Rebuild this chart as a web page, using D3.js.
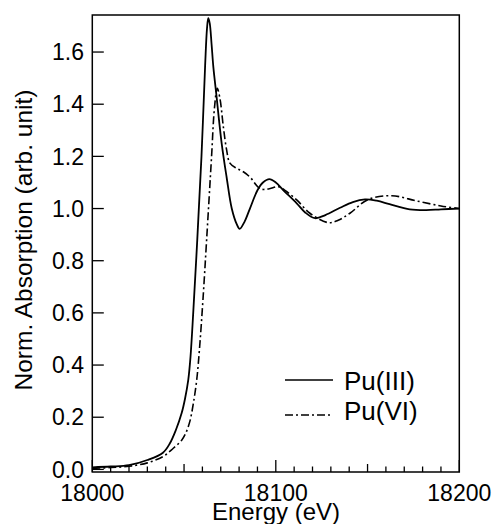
<!DOCTYPE html>
<html>
<head>
<meta charset="utf-8">
<script src="https://cdn.jsdelivr.net/npm/d3@7"></script>
<style>
  body { margin: 0; background: #fff; }
  svg { display: block; }
  text { font-family: "Liberation Sans", Arial, Helvetica, sans-serif; fill: #000; }
</style>
</head>
<body>
<svg id="chart" width="494" height="524"></svg>
<script>
// energy (eV) and normalized absorption
var pu3Energy = [18000, 18010, 18020, 18030, 18038.5, 18042.3, 18045.5, 18048.7, 18050.5, 18052.3, 18053.5,
  18055, 18057.2, 18059.5, 18061.5, 18062.5, 18063.2, 18064, 18065, 18066, 18067.4, 18070.5, 18073.2,
  18076, 18078.7, 18080.3, 18083, 18085.9, 18090, 18093, 18096.5, 18100, 18104, 18111.4, 18116, 18121.4,
  18127, 18135, 18142, 18148.6, 18155, 18162, 18173, 18182, 18190, 18200];
var pu3Value = [0.008, 0.011, 0.016, 0.036, 0.064, 0.10, 0.15, 0.216, 0.27, 0.343, 0.43,
  0.6, 0.88, 1.2, 1.55, 1.69, 1.73, 1.71, 1.63, 1.54, 1.45, 1.25, 1.12,
  1.0, 0.94, 0.922, 0.95, 1.0, 1.07, 1.10, 1.113, 1.10, 1.071, 1.02, 0.985, 0.963,
  0.975, 1.003, 1.025, 1.035, 1.03, 1.017, 0.997, 0.994, 0.997, 1.0];

var pu6Energy = [18000, 18010, 18020, 18030, 18038.7, 18044, 18048.7, 18051, 18053.2, 18055, 18056.9,
  18058.5, 18060.3, 18062.3, 18065, 18066.5, 18068.1, 18069.6, 18071.4, 18073.2, 18075, 18078.7,
  18082.3, 18086, 18091.5, 18096, 18101.4, 18105, 18111.4, 18118.6, 18128.6, 18134, 18140.4,
  18150.4, 18163.2, 18176.8, 18190, 18200];
var pu6Value = [0.004, 0.007, 0.012, 0.025, 0.05, 0.08, 0.112, 0.14, 0.185, 0.25, 0.343,
  0.47, 0.65, 0.88, 1.2, 1.38, 1.461, 1.42, 1.314, 1.225, 1.174, 1.154,
  1.141, 1.12, 1.076, 1.075, 1.084, 1.07, 1.033, 0.982, 0.946, 0.955, 0.982,
  1.035, 1.049, 1.029, 1.01, 1.0];

var seriesNames = ['Pu(III)', 'Pu(VI)'];
var yTickValues = [0, 0.2, 0.4, 0.6, 0.8, 1.0, 1.2, 1.4, 1.6];
var xTickValues = [18000, 18100, 18200];

var svg = d3.select('#chart');

var plotLeft = 92.3, plotRight = 459.3, plotTop = 15, plotBottom = 472;

var x = d3.scaleLinear().domain([18000, 18200]).range([plotLeft, plotRight]);
var y = d3.scaleLinear().domain([-0.01, 1.742]).range([plotBottom, plotTop]);

svg.append('clipPath').attr('id', 'clip')
  .append('rect')
  .attr('x', plotLeft).attr('y', plotTop)
  .attr('width', plotRight - plotLeft).attr('height', plotBottom - plotTop);

// curves
var line = d3.line()
  .x(function(d) { return x(d[0]); })
  .y(function(d) { return y(d[1]); })
  .curve(d3.curveCatmullRom.alpha(0.5));

var pu3 = d3.zip(pu3Energy, pu3Value);
var pu6 = d3.zip(pu6Energy, pu6Value);

var plot = svg.append('g').attr('clip-path', 'url(#clip)');

plot.append('path')
  .datum(pu6)
  .attr('d', line)
  .attr('fill', 'none')
  .attr('stroke', '#000')
  .attr('stroke-width', 1.6)
  .attr('stroke-dasharray', '8,3,2,3');

plot.append('path')
  .datum(pu3)
  .attr('d', line)
  .attr('fill', 'none')
  .attr('stroke', '#000')
  .attr('stroke-width', 1.8);

// x minor ticks every 10 eV, pointing inward
var xMinor = d3.range(18000, 18201, 10);
svg.append('g')
  .selectAll('line')
  .data(xMinor)
  .enter()
  .append('line')
  .attr('x1', function(d) { return x(d); })
  .attr('x2', function(d) { return x(d); })
  .attr('y1', plotBottom)
  .attr('y2', function(d) {
    if (d % 100 === 0) return plotBottom - 12;
    if (d % 50 === 0) return plotBottom - 8;
    return plotBottom - 5.5;
  })
  .attr('stroke', '#000')
  .attr('stroke-width', 1.3);

svg.append('g')
  .selectAll('text')
  .data(xTickValues)
  .enter()
  .append('text')
  .attr('x', function(d) { return x(d); })
  .attr('y', 501)
  .attr('text-anchor', 'middle')
  .style('font-size', '23px')
  .text(function(d) { return d; });

// y ticks
svg.append('g')
  .selectAll('line')
  .data(yTickValues)
  .enter()
  .append('line')
  .attr('x1', plotLeft)
  .attr('x2', plotLeft + 11.5)
  .attr('y1', function(d) { return y(d); })
  .attr('y2', function(d) { return y(d); })
  .attr('stroke', '#000')
  .attr('stroke-width', 1.3);

svg.append('g')
  .selectAll('text')
  .data(yTickValues)
  .enter()
  .append('text')
  .attr('x', 84)
  .attr('y', function(d) { return y(d) + 8.2; })
  .attr('text-anchor', 'end')
  .style('font-size', '23px')
  .text(function(d) { return d.toFixed(1); });

// frame
svg.append('rect')
  .attr('x', plotLeft).attr('y', plotTop)
  .attr('width', plotRight - plotLeft).attr('height', plotBottom - plotTop)
  .attr('fill', 'none')
  .attr('stroke', '#000')
  .attr('stroke-width', 1.5);

// axis titles
svg.append('text')
  .attr('x', 276)
  .attr('y', 520)
  .attr('text-anchor', 'middle')
  .style('font-size', '24px')
  .text('Energy (eV)');

svg.append('text')
  .attr('transform', 'translate(32,240) rotate(-90)')
  .attr('text-anchor', 'middle')
  .style('font-size', '24.5px')
  .text('Norm. Absorption (arb. unit)');

// legend
var legend = svg.append('g');
var legendY = [380, 415];
var legendTextY = [390, 420];
var legendDash = [null, '8,3,2,3'];

seriesNames.forEach(function(name, i) {
  legend.append('line')
    .attr('x1', 285).attr('x2', 333)
    .attr('y1', legendY[i]).attr('y2', legendY[i])
    .attr('stroke', '#000')
    .attr('stroke-width', 1.6)
    .attr('stroke-dasharray', legendDash[i]);
  legend.append('text')
    .attr('x', 344)
    .attr('y', legendTextY[i])
    .style('font-size', '26px')
    .text(name);
});
</script>
</body>
</html>
